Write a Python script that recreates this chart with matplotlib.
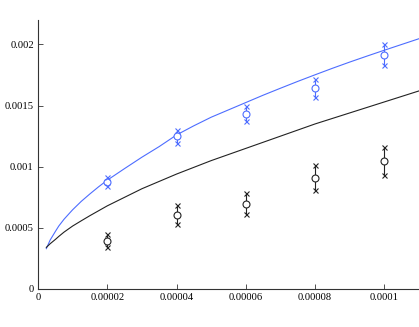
import numpy as np
import matplotlib
matplotlib.use('Agg')
import matplotlib.pyplot as plt

plt.rcParams['font.family'] = ['Liberation Serif', 'DejaVu Serif']

# measured points (mean with upper / lower values)
x_pts = [0.00002, 0.00004, 0.00006, 0.00008, 0.0001]
blue_mid = [0.000875, 0.00125, 0.00143, 0.00164, 0.00191]
blue_hi = [0.00092, 0.00130, 0.00150, 0.00172, 0.00200]
blue_lo = [0.00084, 0.00119, 0.00137, 0.00157, 0.00183]
black_mid = [0.000394, 0.000609, 0.000699, 0.000911, 0.001047]
black_hi = [0.000449, 0.000685, 0.000786, 0.001011, 0.001164]
black_lo = [0.00034, 0.00053, 0.000612, 0.00081, 0.00093]

# curves
x_curve = [0.0000024, 0.0000035, 0.000005, 0.000006, 0.0000075, 0.000009,
           0.00001, 0.0000125, 0.000015, 0.0000175, 0.00002, 0.000025,
           0.00003, 0.000035, 0.00004, 0.000045, 0.00005, 0.000055,
           0.00006, 0.000065, 0.00007, 0.000075, 0.00008, 0.000085,
           0.00009, 0.000095, 0.0001, 0.000105, 0.00011]
blue_curve = [0.00033, 0.0004, 0.00047, 0.000515, 0.00057, 0.000617,
              0.000648, 0.000717, 0.000778, 0.000836, 0.00089, 0.000985,
              0.001078, 0.001165, 0.00126, 0.001335, 0.001405, 0.001465,
              0.001525, 0.001585, 0.001642, 0.001698, 0.001752, 0.001805,
              0.001856, 0.001905, 0.001953, 0.002, 0.002047]
black_curve = [0.00034, 0.00037, 0.000405, 0.00043, 0.000465, 0.000495,
               0.000515, 0.000558, 0.0006, 0.00064, 0.00068, 0.00075,
               0.00082, 0.00088, 0.00094, 0.000995, 0.00105, 0.0011,
               0.00115, 0.0012, 0.00125, 0.0013, 0.00135, 0.001395,
               0.00144, 0.001485, 0.00153, 0.001575, 0.00162]

xticks = [0, 0.00002, 0.00004, 0.00006, 0.00008, 0.0001]
xticklabels = ['0', '0.00002', '0.00004', '0.00006', '0.00008', '0.0001']
yticks = [0, 0.0005, 0.001, 0.0015, 0.002]
yticklabels = ['0', '0.0005', '0.001', '0.0015', '0.002']

blue = '#4d6dff'
dark = '#222222'

fig = plt.figure(figsize=(4.19, 3.27), dpi=100)
ax = fig.add_axes([38/419, 38/327, 1 - 38/419, 269/327])

ax.plot(x_curve, blue_curve, color=blue, lw=0.8)
ax.plot(x_curve, black_curve, color=dark, lw=0.8)

for mid, hi, lo, c in [(blue_mid, blue_hi, blue_lo, blue),
                       (black_mid, black_hi, black_lo, dark)]:
    ax.vlines(x_pts, lo, hi, color=c, lw=0.8)
    ax.plot(x_pts, mid, 'o', mfc='white', mec=c, ms=5, mew=0.8)
    ax.plot(x_pts, hi, 'x', color=c, ms=3.6, mew=0.8)
    ax.plot(x_pts, lo, 'x', color=c, ms=3.6, mew=0.8)

ax.set_xlim(0, 0.00011)
ax.set_ylim(0, 0.0022)
ax.set_xticks(xticks)
ax.set_xticklabels(xticklabels)
ax.set_yticks(yticks)
ax.set_yticklabels(yticklabels)
ax.spines['top'].set_visible(False)
ax.spines['right'].set_visible(False)
for s in ['left', 'bottom']:
    ax.spines[s].set_color('#333333')
    ax.spines[s].set_linewidth(0.8)
ax.tick_params(direction='in', length=3.5, width=0.6, labelsize=7.6,
               color='#333333', pad=3)

fig.savefig('out.png', dpi=100)
